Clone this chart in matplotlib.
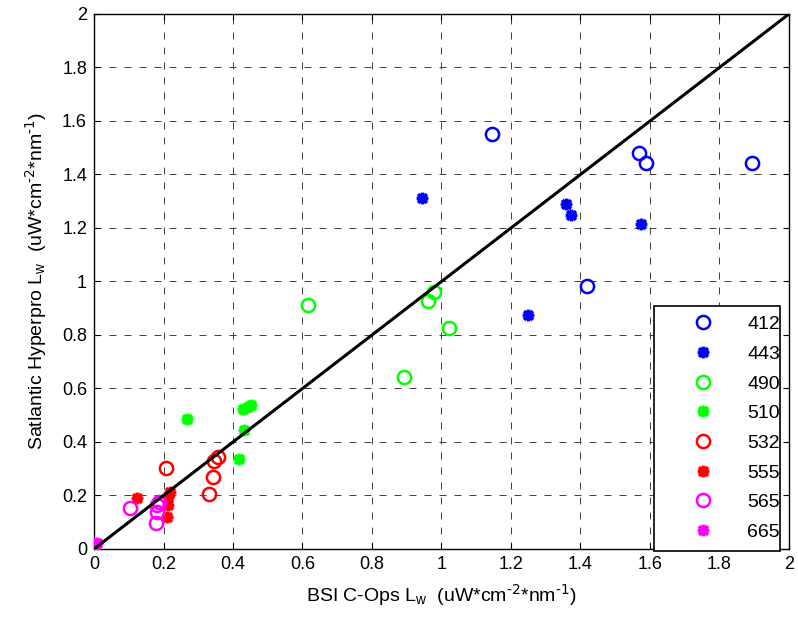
import numpy as np
import matplotlib
matplotlib.use('Agg')
import matplotlib.pyplot as plt
from matplotlib.path import Path

plt.rcParams['font.family'] = ['Liberation Sans', 'DejaVu Sans']
plt.rcParams['mathtext.default'] = 'regular'

# values (x = BSI C-Ops, y = Satlantic Hyperpro)
x_412 = [1.145, 1.568, 1.588, 1.893, 1.418]
y_412 = [1.551, 1.479, 1.443, 1.443, 0.983]

x_443 = [0.943, 1.357, 1.372, 1.574, 1.248]
y_443 = [1.311, 1.289, 1.249, 1.215, 0.875]

x_490 = [0.977, 0.962, 1.023, 0.892, 0.616]
y_490 = [0.960, 0.927, 0.826, 0.642, 0.912]

x_510 = [0.267, 0.430, 0.443, 0.453, 0.433, 0.418]
y_510 = [0.485, 0.522, 0.530, 0.538, 0.445, 0.336]

x_532 = [0.207, 0.345, 0.358, 0.343, 0.332]
y_532 = [0.302, 0.329, 0.343, 0.270, 0.206]

x_555 = [0.123, 0.219, 0.212, 0.214, 0.209]
y_555 = [0.189, 0.214, 0.195, 0.164, 0.121]

x_565 = [0.104, 0.188, 0.180, 0.182, 0.178]
y_565 = [0.152, 0.177, 0.164, 0.140, 0.098]

x_665 = [0.004, 0.010]
y_665 = [0.015, 0.022]

labels = ['412', '443', '490', '510', '532', '555', '565', '665']
colors = ['#0000ff', '#0000ff', '#00ff00', '#00ff00', '#ff0000', '#ff0000', '#ff00ff', '#ff00ff']
xs = [x_412, x_443, x_490, x_510, x_532, x_555, x_565, x_665]
ys = [y_412, y_443, y_490, y_510, y_532, y_555, y_565, y_665]

ticks = np.arange(0, 2.01, 0.2)
tick_labels = [f'{t:g}' for t in ticks]

# matlab style asterisk marker
d = 0.75
star = Path([(-1, 0), (1, 0), (0, -1), (0, 1), (-d, -d), (d, d), (-d, d), (d, -d)],
            [Path.MOVETO, Path.LINETO] * 4)

fig = plt.figure(figsize=(7.98, 6.22), dpi=100)
ax = fig.add_axes([0.1178, 0.1174, 0.8709, 0.8601])

for i in range(len(labels)):
    if i % 2 == 0:
        ax.plot(xs[i], ys[i], linestyle='none', marker='o', markersize=9.5,
                markerfacecolor='none', markeredgecolor=colors[i], markeredgewidth=1.8,
                label=labels[i], zorder=3)
    else:
        ax.plot(xs[i], ys[i], linestyle='none', marker=star, markersize=8.5,
                markerfacecolor='none', markeredgecolor=colors[i], markeredgewidth=2.6,
                label=labels[i], zorder=3)

ax.plot([0, 2], [0, 2], color='black', linewidth=2.2, zorder=4)

ax.set_xlim(0, 2)
ax.set_ylim(0, 2)
ax.set_xticks(ticks)
ax.set_xticklabels(tick_labels)
ax.set_yticks(ticks)
ax.set_yticklabels(tick_labels)
ax.tick_params(direction='in', length=4, width=0.8, top=True, right=True,
               labelsize=13, pad=5)
for sp in ax.spines.values():
    sp.set_linewidth(1.0)

ax.grid(True, color='#444444', linewidth=0.72, linestyle=(0, (7, 8)))
ax.set_axisbelow(True)

unit = r'  (uW*cm$^{\text{-2}}$*nm$^{\text{-1}}$)'
ax.set_xlabel('BSI C-Ops L$_w$' + unit, fontsize=14, labelpad=7)
ax.set_ylabel('Satlantic Hyperpro L$_w$' + unit, fontsize=14, labelpad=9)

leg = ax.legend(loc='lower left', bbox_to_anchor=(0.806, -0.003, 0.181, 0.458),
                mode='expand', fontsize=14, handlelength=4.0, handletextpad=0.3,
                labelspacing=0.62, borderpad=0.5, fancybox=False, framealpha=1,
                edgecolor='black', borderaxespad=0)
leg.get_frame().set_linewidth(1.2)
for t in leg.get_texts():
    t.set_ha('left')

fig.savefig('out.png', dpi=100)
